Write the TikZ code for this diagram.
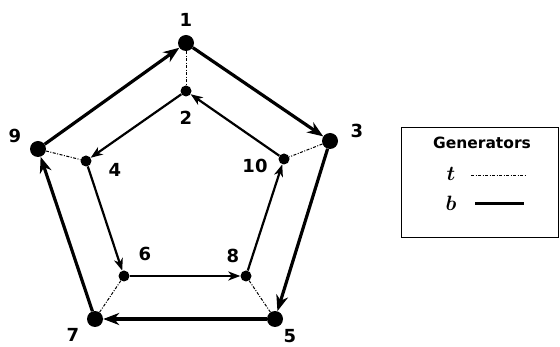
\documentclass[tikz,border=0pt]{standalone}
\usepackage{fontspec}
\setmainfont{DejaVu Sans}
\usetikzlibrary{arrows.meta}
\begin{document}
\begin{tikzpicture}[x=1pt,y=-1pt,
  big/.style={circle,fill=black,inner sep=0pt,minimum size=16pt},
  small/.style={circle,fill=black,inner sep=0pt,minimum size=11pt},
  lab/.style={font=\bfseries\fontsize{18}{18}\selectfont},
  bgen/.style={line width=3.2pt,-{Stealth[length=16pt,width=12pt,inset=5pt]}},
  inner/.style={line width=2.2pt,-{Stealth[length=12pt,width=9pt,inset=3.5pt]}},
  tgen/.style={line width=1pt,dash pattern=on 3pt off 1.5pt on 1pt off 1.5pt}]
\useasboundingbox (0,0) rectangle (560,347);
\node[big] (n1) at (186,43) {};
\node[small] (n2) at (186,91) {};
\node[big] (n3) at (330,141) {};
\node[small] (n10) at (284,159) {};
\node[big] (n9) at (38,149) {};
\node[small] (n4) at (86,161) {};
\node[big] (n5) at (275,319) {};
\node[small] (n8) at (246,276) {};
\node[small] (n6) at (124,276) {};
\node[big] (n7) at (95,319) {};
\node[lab] (l1) at (186,20) {1};
\node[lab] (l2) at (186,118) {2};
\node[lab] (l3) at (357,131) {3};
\node[lab] (l9) at (15,136) {9};
\node[lab] (l4) at (115,170) {4};
\node[lab] (l10) at (255,166) {10};
\node[lab] (l6) at (145,254) {6};
\node[lab] (l8) at (233,256) {8};
\node[lab] (l7) at (73,335) {7};
\node[lab] (l5) at (290,336) {5};
\draw[bgen] (n9) -- (n1);
\draw[bgen] (n1) -- (n3);
\draw[bgen] (n3) -- (n5);
\draw[bgen] (n5) -- (n7);
\draw[bgen] (n7) -- (n9);
\draw[inner] (n2) -- (n4);
\draw[inner] (n4) -- (n6);
\draw[inner] (n6) -- (n8);
\draw[inner] (n8) -- (n10);
\draw[inner] (n10) -- (n2);
\draw[tgen] (n1) -- (n2);
\draw[tgen] (n9) -- (n4);
\draw[tgen] (n3) -- (n10);
\draw[tgen] (n7) -- (n6);
\draw[tgen] (n5) -- (n8);
\node[draw,line width=1.3pt,minimum width=157pt,minimum height=110pt,anchor=north west] (box) at (401,127) {};
\node[font=\bfseries\fontsize{15.5}{15.5}\selectfont] (gen) at (482,143) {Generators};
\node[font=\fontsize{20}{20}\selectfont\boldmath] (tl) at (451,174) {$t$};
\node[font=\fontsize{20}{20}\selectfont\boldmath] (bl) at (451,203) {$b$};
\coordinate (t1) at (471,175);
\coordinate (t2) at (525,175);
\coordinate (b1) at (475,204);
\coordinate (b2) at (524,204);
\draw[tgen,line width=0.8pt] (t1) -- (t2);
\draw[line width=3pt] (b1) -- (b2);
\end{tikzpicture}
\end{document}
